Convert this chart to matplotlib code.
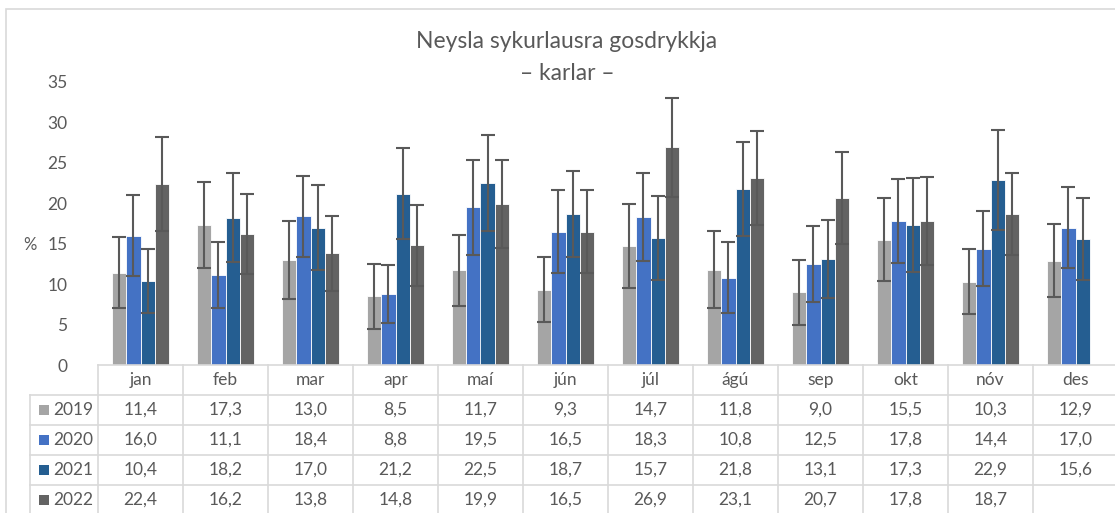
import matplotlib
matplotlib.use('Agg')
import matplotlib.pyplot as plt
import matplotlib.transforms as mtransforms
from matplotlib.patches import Rectangle
import numpy as np

months = ['jan', 'feb', 'mar', 'apr', 'maí', 'jún', 'júl', 'ágú', 'sep', 'okt', 'nóv', 'des']
years = ['2019', '2020', '2021', '2022']

v2019 = [11.4, 17.3, 13.0, 8.5, 11.7, 9.3, 14.7, 11.8, 9.0, 15.5, 10.3, 12.9]
v2020 = [16.0, 11.1, 18.4, 8.8, 19.5, 16.5, 18.3, 10.8, 12.5, 17.8, 14.4, 17.0]
v2021 = [10.4, 18.2, 17.0, 21.2, 22.5, 18.7, 15.7, 21.8, 13.1, 17.3, 22.9, 15.6]
v2022 = [22.4, 16.2, 13.8, 14.8, 19.9, 16.5, 26.9, 23.1, 20.7, 17.8, 18.7, None]

# error bar half-widths
e2019 = [4.4, 5.3, 4.8, 4.0, 4.4, 4.0, 5.2, 4.8, 4.0, 5.1, 4.0, 4.5]
e2020 = [5.0, 4.1, 5.0, 3.6, 5.9, 5.1, 5.4, 4.4, 4.7, 5.2, 4.6, 5.0]
e2021 = [4.0, 5.5, 5.2, 5.6, 5.9, 5.3, 5.2, 5.8, 4.8, 5.8, 6.2, 5.1]
e2022 = [5.8, 4.9, 4.6, 5.0, 5.4, 5.1, 6.1, 5.8, 5.7, 5.4, 5.1, None]

series = [v2019, v2020, v2021, v2022]
errors = [e2019, e2020, e2021, e2022]
colors = ['#A5A5A5', '#4472C4', '#255E91', '#636363']

FONT = ['Lato', 'DejaVu Sans']
TXT = '#595959'
GRID = '#D9D9D9'

W, H = 1115, 513
fig = plt.figure(figsize=(W / 100, H / 100), dpi=100)

def fx(px):
    return px / W

def fy(py):
    return 1 - py / H

# chart area border
fig.patches.append(Rectangle((fx(6), fy(600)), fx(1200), fy(9) - fy(600),
                             transform=fig.transFigure, fill=False,
                             edgecolor=GRID, linewidth=1.2))

ax_left, ax_right, ax_top, ax_bottom = 98, 1118, 82, 365
ax = fig.add_axes([fx(ax_left), fy(ax_bottom), fx(ax_right - ax_left),
                   fy(ax_top) - fy(ax_bottom)])

x = np.arange(len(months))
bw = 0.168
offsets = [-1.5, -0.5, 0.5, 1.5]
for vals, errs, col, off in zip(series, errors, colors, offsets):
    xs = [xi + off * bw for xi, v in zip(x, vals) if v is not None]
    vs = [v for v in vals if v is not None]
    es = [e for e in errs if e is not None]
    ax.bar(xs, vs, width=bw, color=col, edgecolor='white', linewidth=0.6, zorder=2)
    ax.errorbar(xs, vs, yerr=es, fmt='none', ecolor='#595959', elinewidth=1.5,
                capsize=5, capthick=1.5, zorder=3)

ax.set_xlim(-0.5, 11.5)
ax.set_ylim(0, 35)
ax.set_yticks(range(0, 36, 5))
ax.set_xticks([])
for s in ['top', 'right', 'left']:
    ax.spines[s].set_visible(False)
ax.spines['bottom'].set_color(GRID)
ax.spines['bottom'].set_linewidth(1.2)
ax.tick_params(axis='y', length=0, pad=22, labelsize=12.5, labelcolor=TXT)
for lab in ax.get_yticklabels():
    lab.set_family(FONT)

fig.text(fx(30), fy(245), '%', ha='center', va='center', fontsize=12,
         color=TXT, family=FONT)

fig.text(fx(567), fy(41), 'Neysla sykurlausra gosdrykkja', ha='center', va='center',
         fontsize=16.5, color=TXT, family=FONT)
fig.text(fx(567), fy(73), '– karlar –', ha='center', va='center',
         fontsize=16.5, color=TXT, family=FONT)

# data table below the axis
tr = mtransforms.blended_transform_factory(ax.transData, fig.transFigure)
row_h = 30
top = ax_bottom
rows_y = [top + row_h * (i + 1) for i in range(len(years) + 1)]
lbl_left = 30

for b in np.arange(-0.5, 12.0, 1.0):
    ax.add_line(plt.Line2D([b, b], [fy(top), fy(H + 10)], transform=tr,
                           color=GRID, linewidth=1.2, clip_on=False))
for y in rows_y[:-1]:
    fig.add_artist(plt.Line2D([fx(lbl_left), fx(W + 10)], [fy(y), fy(y)],
                              color=GRID, linewidth=1.2))
fig.add_artist(plt.Line2D([fx(lbl_left), fx(lbl_left)], [fy(rows_y[0]), fy(H + 10)],
                          color=GRID, linewidth=1.2))

for m, name in enumerate(months):
    ax.text(m, fy(top + row_h / 2), name, transform=tr, ha='center', va='center',
            fontsize=12.5, color=TXT, family=FONT, clip_on=False)

for r, (yr, vals, col) in enumerate(zip(years, series, colors)):
    yc = fy(top + row_h * (r + 1) + row_h / 2)
    fig.patches.append(Rectangle((fx(39), yc - 0.5 * 10 / H), fx(10), 10 / H,
                                 transform=fig.transFigure, facecolor=col,
                                 edgecolor='none'))
    fig.text(fx(53), yc, yr, ha='left', va='center', fontsize=12.5,
             color=TXT, family=FONT)
    for m, v in enumerate(vals):
        if v is None:
            continue
        ax.text(m, yc, f'{v:.1f}'.replace('.', ','), transform=tr, ha='center',
                va='center', fontsize=12.5, color=TXT, family=FONT, clip_on=False)

fig.savefig('out.png', dpi=100)
